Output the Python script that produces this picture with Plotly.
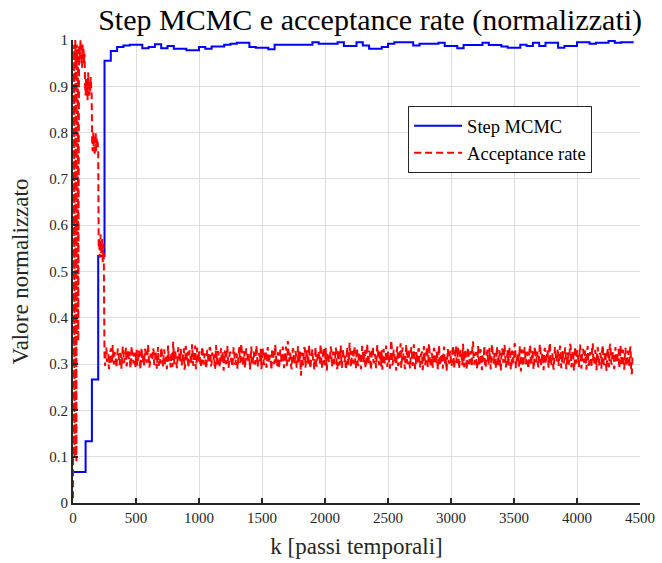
import plotly.graph_objects as go

# ---- Data ----
step_k = [0, 100, 150, 200, 250, 300, 350, 400, 450, 550, 600, 650, 700, 750, 800, 900, 1000, 1050, 1100, 1200,
          1250, 1300, 1400, 1450, 1550, 1600, 1900, 1950, 2100, 2150, 2250, 2300, 2350, 2450, 2500, 2550, 2700, 2750,
          2900, 2950, 3050, 3100, 3250, 3300, 3400, 3450, 3550, 3600, 3650, 3700, 3750, 3850, 3900, 4000, 4100, 4150,
          4250, 4300, 4350, 4450]
step_val = [0.0667, 0.1333, 0.2667, 0.5333, 0.955, 0.976, 0.985, 0.988, 0.990, 0.982, 0.985, 0.991, 0.982, 0.987,
            0.981, 0.978, 0.985, 0.981, 0.986, 0.990, 0.992, 0.994, 0.985, 0.983, 0.980, 0.990, 0.995, 0.992, 0.995,
            0.987, 0.995, 0.988, 0.981, 0.985, 0.992, 0.995, 0.988, 0.992, 0.994, 0.987, 0.982, 0.989, 0.994, 0.989,
            0.986, 0.983, 0.990, 0.987, 0.994, 0.987, 0.994, 0.983, 0.987, 0.995, 0.992, 0.994, 0.998, 0.994, 0.995,
            0.995]

acc_k_early = [0, 3, 6, 9, 12, 15, 18, 21, 24, 27, 30, 33, 36, 39, 42, 45, 48, 52, 56, 60, 64, 68, 72, 76, 80, 84,
               88, 92,
               96, 100, 104, 108, 112, 116, 120, 124, 128, 132, 136, 140, 144, 148,
               152, 156, 160, 164, 168, 172, 176, 180, 184, 188, 192, 196, 200,
               204, 208, 212, 216, 220, 224, 228, 232, 236, 240, 244]
acc_early = [0.01, 0.98, 0.96, 0.99, 0.10, 0.97, 1.00, 0.95, 0.98, 0.09, 0.99, 0.96, 0.98, 0.94, 0.35, 0.97, 0.99,
             0.95, 0.98, 1.00, 0.96, 0.97, 0.94, 0.99, 0.96, 0.98, 0.95, 0.97,
             0.90, 0.88, 0.92, 0.89, 0.91, 0.87, 0.93, 0.90, 0.88, 0.91, 0.89, 0.92, 0.90, 0.88,
             0.78, 0.76, 0.80, 0.77, 0.79, 0.75, 0.78, 0.80, 0.76, 0.79, 0.77, 0.78, 0.76,
             0.55, 0.57, 0.53, 0.56, 0.58, 0.54, 0.55, 0.57, 0.52, 0.56, 0.55]

# stationary part: values at k = 250, 260, ... (acc_tail_a) and k = 255, 265, ... (acc_tail_b)
acc_tail_start = 250
acc_tail_step = 10
acc_tail_a = [
    0.318, 0.329, 0.305, 0.322, 0.311, 0.334, 0.300, 0.317, 0.326, 0.309, 0.313, 0.331, 0.298, 0.320, 0.308, 0.324, 0.312, 0.335, 0.303, 0.316,
    0.327, 0.306, 0.319, 0.301, 0.323, 0.314, 0.297, 0.330, 0.310, 0.321, 0.304, 0.318, 0.333, 0.307, 0.315, 0.325, 0.299, 0.320, 0.311, 0.328,
    0.302, 0.317, 0.324, 0.296, 0.313, 0.336, 0.309, 0.321, 0.300, 0.316, 0.329, 0.305, 0.312, 0.323, 0.294, 0.318, 0.331, 0.308, 0.314, 0.326,
    0.303, 0.320, 0.311, 0.334, 0.299, 0.315, 0.327, 0.306, 0.319, 0.301, 0.322, 0.313, 0.340, 0.304, 0.317, 0.325, 0.298, 0.312, 0.329, 0.307,
    0.318, 0.300, 0.324, 0.310, 0.333, 0.302, 0.316, 0.321, 0.295, 0.314, 0.328, 0.305, 0.319, 0.311, 0.326, 0.299, 0.317, 0.332, 0.308, 0.313,
    0.325, 0.304, 0.316, 0.329, 0.301, 0.320, 0.310, 0.337, 0.306, 0.318, 0.296, 0.323, 0.312, 0.327, 0.303, 0.315, 0.330, 0.309, 0.321, 0.300,
    0.314, 0.326, 0.307, 0.319, 0.333, 0.302, 0.317, 0.311, 0.328, 0.298, 0.322, 0.313, 0.305, 0.331, 0.316, 0.308, 0.324, 0.297, 0.318, 0.310,
    0.329, 0.306, 0.320, 0.312, 0.338, 0.303, 0.315, 0.324, 0.299, 0.317, 0.330, 0.308, 0.321, 0.294, 0.313, 0.327, 0.275, 0.319, 0.311, 0.334,
    0.305, 0.318, 0.326, 0.301, 0.314, 0.332, 0.309, 0.323, 0.297, 0.316, 0.328, 0.304, 0.320, 0.312, 0.336, 0.300, 0.317, 0.325, 0.307, 0.313,
    0.331, 0.302, 0.319, 0.310, 0.327, 0.296, 0.315, 0.322, 0.306, 0.334, 0.311, 0.318, 0.299, 0.324, 0.313, 0.329, 0.304, 0.316, 0.338, 0.308,
    0.320, 0.301, 0.326, 0.314, 0.307, 0.332, 0.318, 0.297, 0.323, 0.311, 0.328, 0.305, 0.317, 0.335, 0.302, 0.319, 0.312, 0.325, 0.298, 0.316,
    0.330, 0.309, 0.321, 0.303, 0.315, 0.327, 0.300, 0.318, 0.336, 0.306, 0.322, 0.313, 0.329, 0.296, 0.317, 0.345, 0.310, 0.324, 0.304, 0.319,
    0.311, 0.333, 0.302, 0.316, 0.325, 0.308, 0.320, 0.298, 0.314, 0.331, 0.305, 0.318, 0.327, 0.301, 0.323, 0.312, 0.337, 0.307, 0.315, 0.294,
    0.321, 0.310, 0.328, 0.303, 0.317, 0.334, 0.306, 0.319, 0.313, 0.326, 0.299, 0.316, 0.330, 0.308, 0.322, 0.300, 0.318, 0.325, 0.311, 0.339,
    0.304, 0.320, 0.314, 0.327, 0.297, 0.316, 0.332, 0.309, 0.323, 0.302, 0.318, 0.311, 0.343, 0.306, 0.319, 0.326, 0.300, 0.315, 0.329, 0.308,
    0.322, 0.313, 0.296, 0.317, 0.331, 0.305, 0.320, 0.310, 0.328, 0.301, 0.316, 0.335, 0.307, 0.321, 0.298, 0.314, 0.327, 0.309, 0.319, 0.303,
    0.330, 0.312, 0.318, 0.300, 0.324, 0.315, 0.338, 0.306, 0.320, 0.295, 0.317, 0.329, 0.308, 0.322, 0.311, 0.326, 0.302, 0.316, 0.333, 0.310,
    0.319, 0.304, 0.325, 0.313, 0.299, 0.321, 0.334, 0.307, 0.316, 0.328, 0.301, 0.318, 0.311, 0.336, 0.305, 0.320, 0.297, 0.314, 0.327, 0.309,
    0.323, 0.312, 0.331, 0.303, 0.317, 0.308, 0.326, 0.300, 0.319, 0.314, 0.337, 0.306, 0.321, 0.296, 0.315, 0.329, 0.310, 0.324, 0.302, 0.318,
    0.330, 0.307, 0.316, 0.325, 0.299, 0.320, 0.313, 0.335, 0.304, 0.318, 0.311, 0.327, 0.301, 0.322, 0.315, 0.332, 0.306, 0.319, 0.298, 0.324,
    0.312, 0.339, 0.305, 0.317, 0.326, 0.300, 0.321, 0.310, 0.333, 0.303, 0.316, 0.328, 0.308, 0.323, 0.295, 0.318, 0.312, 0.330, 0.283, 0.315,
]
acc_tail_b = [
    0.296, 0.336, 0.310, 0.289, 0.327, 0.304, 0.341, 0.299, 0.321, 0.292, 0.333, 0.307, 0.324, 0.290, 0.338, 0.302, 0.319, 0.295, 0.330, 0.311,
    0.291, 0.339, 0.306, 0.323, 0.294, 0.331, 0.300, 0.325, 0.288, 0.335, 0.309, 0.297, 0.328, 0.303, 0.342, 0.293, 0.322, 0.308, 0.334, 0.298,
    0.329, 0.290, 0.337, 0.312, 0.301, 0.326, 0.295, 0.332, 0.305, 0.289, 0.340, 0.316, 0.293, 0.327, 0.348, 0.300, 0.321, 0.291, 0.336, 0.304,
    0.333, 0.297, 0.324, 0.288, 0.339, 0.308, 0.292, 0.330, 0.301, 0.343, 0.296, 0.320, 0.289, 0.335, 0.306, 0.327, 0.294, 0.338, 0.299, 0.323,
    0.290, 0.331, 0.302, 0.337, 0.295, 0.325, 0.309, 0.288, 0.341, 0.298, 0.322, 0.293, 0.334, 0.304, 0.286, 0.329, 0.300, 0.339, 0.292, 0.326,
    0.307, 0.294, 0.336, 0.299, 0.323, 0.290, 0.330, 0.303, 0.344, 0.296, 0.328, 0.291, 0.334, 0.305, 0.321, 0.288, 0.338, 0.297, 0.327, 0.301,
    0.340, 0.293, 0.324, 0.306, 0.289, 0.335, 0.298, 0.329, 0.292, 0.337, 0.303, 0.320, 0.287, 0.333, 0.300, 0.342, 0.295, 0.326, 0.290, 0.331,
    0.302, 0.338, 0.291, 0.327, 0.296, 0.350, 0.305, 0.322, 0.289, 0.334, 0.299, 0.328, 0.293, 0.339, 0.304, 0.280, 0.325, 0.297, 0.336, 0.292,
    0.330, 0.299, 0.341, 0.290, 0.324, 0.307, 0.288, 0.337, 0.295, 0.326, 0.302, 0.343, 0.291, 0.329, 0.298, 0.335, 0.286, 0.323, 0.304, 0.338,
    0.294, 0.327, 0.300, 0.336, 0.289, 0.331, 0.297, 0.340, 0.292, 0.325, 0.305, 0.288, 0.337, 0.299, 0.346, 0.293, 0.328, 0.301, 0.334, 0.290,
    0.335, 0.296, 0.322, 0.289, 0.339, 0.303, 0.330, 0.292, 0.344, 0.298, 0.326, 0.287, 0.336, 0.306, 0.321, 0.291, 0.341, 0.300, 0.329, 0.295,
    0.288, 0.333, 0.301, 0.340, 0.294, 0.324, 0.290, 0.352, 0.297, 0.331, 0.303, 0.286, 0.338, 0.299, 0.325, 0.292, 0.336, 0.305, 0.289, 0.342,
    0.300, 0.328, 0.291, 0.337, 0.296, 0.343, 0.289, 0.326, 0.304, 0.334, 0.293, 0.322, 0.287, 0.339, 0.298, 0.330, 0.294, 0.345, 0.302, 0.324,
    0.292, 0.335, 0.299, 0.327, 0.288, 0.341, 0.297, 0.323, 0.290, 0.338, 0.306, 0.285, 0.333, 0.301, 0.329, 0.295, 0.340, 0.291, 0.326, 0.303,
    0.337, 0.290, 0.331, 0.298, 0.344, 0.293, 0.325, 0.288, 0.336, 0.302, 0.328, 0.294, 0.349, 0.299, 0.323, 0.289, 0.339, 0.296, 0.332, 0.287,
    0.306, 0.340, 0.292, 0.327, 0.298, 0.335, 0.289, 0.343, 0.301, 0.324, 0.290, 0.338, 0.296, 0.330, 0.286, 0.334, 0.303, 0.342, 0.293, 0.326,
    0.297, 0.336, 0.288, 0.329, 0.302, 0.345, 0.291, 0.322, 0.299, 0.339, 0.284, 0.331, 0.295, 0.337, 0.300, 0.325, 0.290, 0.341, 0.298, 0.328,
    0.289, 0.338, 0.304, 0.327, 0.293, 0.343, 0.298, 0.324, 0.287, 0.335, 0.301, 0.330, 0.292, 0.346, 0.297, 0.323, 0.288, 0.337, 0.305, 0.331,
    0.296, 0.340, 0.291, 0.328, 0.302, 0.336, 0.289, 0.325, 0.299, 0.344, 0.293, 0.330, 0.286, 0.338, 0.301, 0.327, 0.294, 0.342, 0.290, 0.333,
    0.303, 0.329, 0.288, 0.339, 0.297, 0.326, 0.292, 0.345, 0.300, 0.331, 0.287, 0.337, 0.296, 0.324, 0.290, 0.341, 0.298, 0.328, 0.285, 0.334,
    0.293, 0.344, 0.299, 0.327, 0.289, 0.337, 0.302, 0.325, 0.291, 0.340, 0.296, 0.331, 0.288, 0.335, 0.300, 0.329, 0.294, 0.338, 0.278, 0.322,
]

x_ticks = [0, 500, 1000, 1500, 2000, 2500, 3000, 3500, 4000, 4500]
y_ticks = [0, 0.1, 0.2, 0.3, 0.4, 0.5, 0.6, 0.7, 0.8, 0.9, 1]
y_tick_text = ["0", "0.1", "0.2", "0.3", "0.4", "0.5", "0.6", "0.7", "0.8", "0.9", "1"]

# ---- Build series ----
acc_k = list(acc_k_early)
acc_v = list(acc_early)
half = acc_tail_step // 2
for i, (va, vb) in enumerate(zip(acc_tail_a, acc_tail_b)):
    k0 = acc_tail_start + i * acc_tail_step
    acc_k += [k0, k0 + half]
    acc_v += [va, vb]

FONT = "Liberation Serif"
AX = "#262626"

fig = go.Figure()
fig.add_trace(go.Scatter(x=step_k, y=step_val, mode="lines", line_shape="hv",
                         line=dict(color="#0000ff", width=2), name="Step MCMC"))
fig.add_trace(go.Scatter(x=acc_k, y=acc_v, mode="lines",
                         line=dict(color="#ff0000", width=2, dash="7px,4px"), name="Acceptance rate"))

fig.update_layout(
    width=662, height=563,
    margin=dict(l=73, r=22, t=40, b=60),
    paper_bgcolor="white", plot_bgcolor="white",
    font=dict(family=FONT, color=AX),
    title=dict(text="Step MCMC e acceptance rate (normalizzati)", x=0.524, xref="paper", xanchor="center",
               y=1 - 19 / 563, yref="container", yanchor="middle",
               font=dict(family=FONT, size=30, color="black")),
    legend=dict(x=0.591, y=0.857, xanchor="left", yanchor="top",
                bgcolor="white", bordercolor=AX, borderwidth=1,
                font=dict(family=FONT, size=18.5, color="black"),
                itemwidth=48, tracegroupgap=0),
    showlegend=True,
)
fig.update_xaxes(range=[0, 4500], tickvals=x_ticks, ticks="inside", ticklen=5, tickwidth=1.5, tickcolor=AX,
                 showline=True, linecolor=AX, linewidth=2, mirror=False, automargin=False,
                 showgrid=True, gridcolor="#dedede", gridwidth=1, zeroline=False,
                 tickfont=dict(family=FONT, size=15, color=AX),
                 title=dict(text="k [passi temporali]", font=dict(family=FONT, size=23, color=AX), standoff=13))
fig.update_yaxes(range=[0, 1], tickvals=y_ticks, ticktext=y_tick_text, ticks="inside", ticklen=5, tickwidth=1.5,
                 tickcolor=AX, showline=True, linecolor=AX, linewidth=2, mirror=False, automargin=False,
                 showgrid=True, gridcolor="#dedede", gridwidth=1, zeroline=False,
                 tickfont=dict(family=FONT, size=15, color=AX),
                 title=dict(text="Valore normalizzato", font=dict(family=FONT, size=23, color=AX), standoff=14))

fig.write_html("out.html")
